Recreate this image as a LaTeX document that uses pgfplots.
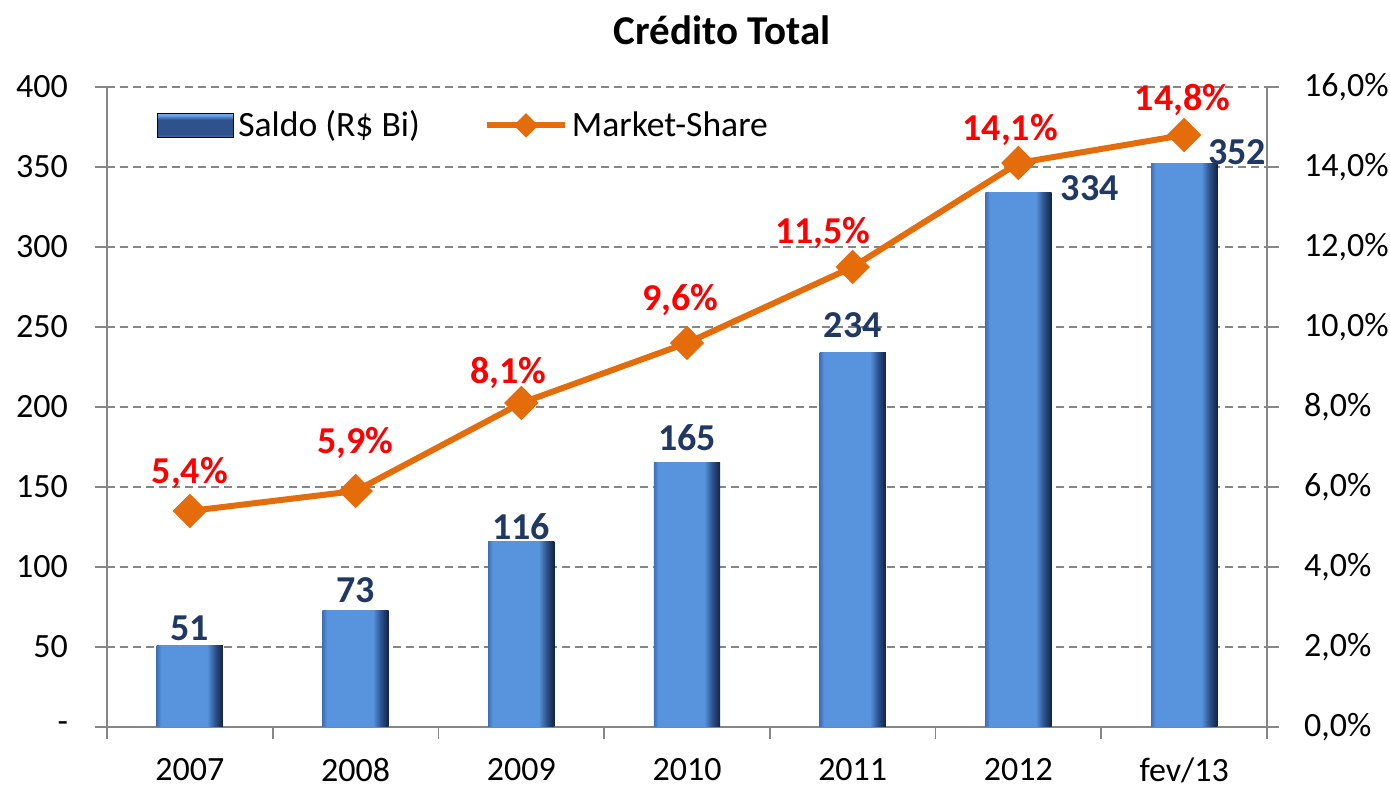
\documentclass[border=0pt]{standalone}
\usepackage{pgfplots}
\pgfplotsset{compat=1.18}
\usepackage{fontspec}
\setmainfont{Carlito}

\definecolor{barface}{RGB}{88,148,222}
\definecolor{bardark}{RGB}{18,34,66}
\definecolor{barmid}{RGB}{45,82,140}
\definecolor{barleft}{RGB}{62,112,182}
\definecolor{barlight}{RGB}{110,170,238}
\definecolor{lineorange}{RGB}{228,108,10}
\definecolor{lblblue}{RGB}{31,56,100}
\definecolor{lblred}{RGB}{255,0,0}
\definecolor{axisgray}{RGB}{134,134,134}

% bar face: shading maps 25bp..75bp onto the bar
\pgfdeclarehorizontalshading{barshade}{100bp}{color(0bp)=(barleft); color(25bp)=(barleft); color(28.5bp)=(barface); color(63bp)=(barface); color(69bp)=(barmid); color(75bp)=(bardark); color(100bp)=(bardark)}
% legend swatch: light rim on top, dark middle
\pgfdeclareverticalshading{legshade}{100bp}{color(0bp)=(barleft); color(25bp)=(barleft); color(32bp)=(barmid); color(62bp)=(barmid); color(72bp)=(barlight); color(75bp)=(barlight); color(100bp)=(barlight)}

\pgfplotsset{
  linelegend/.style={legend image code/.code={
    \draw[##1] (0pt,0pt) -- (39pt,0pt);
    \draw[##1, mark size=4pt] plot coordinates {(19.5pt,0pt)};
  }},
  barlegend/.style={legend image code/.code={
    \path[shading=legshade] (0pt,-6pt) rectangle (38pt,6pt);
  }},
  onebar/.style={ybar, bar width=0.4, bar shift=0pt, draw=none, shading=barshade},
}

\newcommand{\tickfont}{\fontsize{17}{19}\selectfont}

\begin{document}
\begin{tikzpicture}
\useasboundingbox (-53.5pt,-31.5pt) rectangle (641.5pt,363.5pt);

\begin{axis}[
  scale only axis, width=580pt, height=320pt,
  xmin=-0.5, xmax=6.5, ymin=0, ymax=400,
  axis x line*=bottom, axis y line*=left,
  axis line style={-, draw=axisgray, line width=0.8pt},
  xtick={0,...,6},
  xticklabels={2007,2008,2009,2010,2011,2012,fev/13},
  minor xtick={-0.5,0.5,...,6.5},
  major x tick style={draw=none},
  minor x tick style={draw=axisgray, line width=0.8pt},
  ytick={0,50,...,400},
  yticklabels={{-\hspace{7.5pt}},50,100,150,200,250,300,350,400},
  y tick style={draw=axisgray, line width=0.8pt},
  tick align=outside, major tick length=6pt, minor tick length=6pt,
  ymajorgrids,
  grid style={draw=axisgray, line width=0.7pt, dash pattern=on 4pt off 2.5pt},
  tick label style={font=\tickfont},
  xticklabel style={yshift=-6pt},
  yticklabel style={xshift=-10pt},
  clip=false,
]
  \addplot[onebar] coordinates {(0,51)};
  \addplot[onebar] coordinates {(1,73)};
  \addplot[onebar] coordinates {(2,116)};
  \addplot[onebar] coordinates {(3,165)};
  \addplot[onebar] coordinates {(4,234)};
  \addplot[onebar] coordinates {(5,334)};
  \addplot[onebar] coordinates {(6,352)};
  \begin{scope}[every node/.style={font=\bfseries\fontsize{19}{21}\selectfont, text=lblblue}]
    \node at (axis cs:0,61.9) {51};
    \node at (axis cs:1,85.6) {73};
    \node at (axis cs:2,125) {116};
    \node at (axis cs:3,180.6) {165};
    \node at (axis cs:4,251) {234};
    \node at (axis cs:5.43,336.9) {334};
    \node at (axis cs:6.32,359.4) {352};
  \end{scope}
\end{axis}

\begin{axis}[
  scale only axis, width=580pt, height=320pt,
  xmin=-0.5, xmax=6.5, ymin=0, ymax=16,
  axis x line=none, axis y line*=right,
  axis line style={-, draw=axisgray, line width=0.8pt},
  ytick={0,2,...,16},
  yticklabels={{0,0\%},{2,0\%},{4,0\%},{6,0\%},{8,0\%},{10,0\%},{12,0\%},{14,0\%},{16,0\%}},
  y tick style={draw=axisgray, line width=0.8pt},
  tick align=outside, major tick length=6pt,
  tick label style={font=\tickfont},
  yticklabel style={xshift=9pt},
  clip=false,
  legend columns=2,
  legend style={at={(0.038,0.94)}, anchor=west, draw=none, fill=none,
    font=\fontsize{17.8}{19}\selectfont,
    /tikz/every even column/.append style={column sep=30pt}},
]
  \addlegendimage{barlegend}
  \addlegendentry{Saldo (R\$ Bi)}
  \addplot[color=lineorange, line width=3pt, mark=diamond*, mark size=6.5pt,
    mark options={xscale=1.33, solid, fill=lineorange}, linelegend] coordinates {
    (0,5.4) (1,5.9) (2,8.1) (3,9.6) (4,11.5) (5,14.1) (6,14.8)
  };
  \addlegendentry{Market-Share}
  \begin{scope}[every node/.style={font=\bfseries\fontsize{19}{21}\selectfont, text=lblred}]
    \node at (axis cs:0,6.35) {5,4\%};
    \node at (axis cs:1,7.1) {5,9\%};
    \node at (axis cs:1.92,8.85) {8,1\%};
    \node at (axis cs:2.96,10.675) {9,6\%};
    \node at (axis cs:3.82,12.35) {11,5\%};
    \node at (axis cs:4.95,14.925) {14,1\%};
    \node at (axis cs:5.99,15.675) {14,8\%};
  \end{scope}
\end{axis}

\node[font=\bfseries\fontsize{20.5}{23}\selectfont] at (307.5pt,348.5pt) {Crédito Total};
\end{tikzpicture}
\end{document}
